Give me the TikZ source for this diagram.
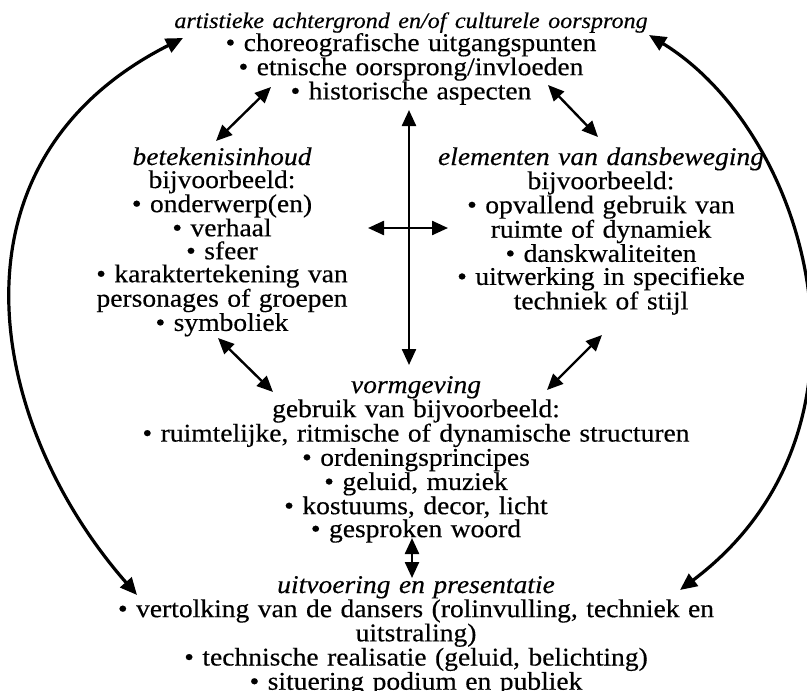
\documentclass[tikz,border=0pt]{standalone}
\usepackage{fontspec}
\setmainfont{Liberation Serif}[FakeStretch=1.08, FakeBold=0.4]
\usetikzlibrary{arrows.meta}
\setlength{\lineskiplimit}{-100pt}

\begin{document}
\begin{tikzpicture}[
    x=1pt, y=-1pt,
    blok/.style={align=center, text width=#1, inner sep=0pt, anchor=base, font=\fontsize{25.5}{23}\selectfont},
    dubbel/.style={{Triangle[length=16pt,width=14pt]}-{Triangle[length=16pt,width=14pt]}, line width=2.4pt},
    boog/.style={{Triangle[length=17pt,width=15pt]}-{Triangle[length=17pt,width=15pt]}, line width=3.2pt}
]

% Frame
\useasboundingbox (0,0) rectangle (807,691);

% Blocks
\node[blok=520pt] (achtergrond) at (411,28) {{\fontsize{22.3}{23.5}\selectfont\itshape artistieke achtergrond en/of culturele oorsprong}\\
    • choreografische uitgangspunten\\ • etnische oorsprong/invloeden\\ • historische aspecten};
\node[blok=300pt] (betekenis) at (222,165) {{\itshape betekenisinhoud}\\ bijvoorbeeld:\\ • onderwerp(en)\\ • verhaal\\ • sfeer\\
    • karaktertekening van\\ personages of groepen\\ • symboliek};
\node[blok=340pt] (elementen) at (601,165) {{\itshape elementen van dansbeweging}\\ bijvoorbeeld:\\ • opvallend gebruik van\\
    ruimte of dynamiek\\ • danskwaliteiten\\ • uitwerking in specifieke\\ techniek of stijl};
\node[blok=620pt] (vormgeving) at (416,393) {{\itshape vormgeving}\\ gebruik van bijvoorbeeld:\\ • ruimtelijke, ritmische of dynamische structuren\\
    • ordeningsprincipes\\ • geluid, muziek\\ • kostuums, decor, licht\\ • gesproken woord};
\node[blok=660pt, font=\fontsize{25.5}{21.5}\selectfont] (uitvoering) at (416,593) {{\itshape uitvoering en presentatie}\\ • vertolking van de dansers (rolinvulling, techniek en\\
    uitstraling)\\ • technische realisatie (geluid, belichting)\\ • situering podium en publiek};

% Arrow ends
\coordinate (a1) at (271,87);  \coordinate (a2) at (216,141);
\coordinate (b1) at (548,85);  \coordinate (b2) at (598,137);
\coordinate (c1) at (409,110); \coordinate (c2) at (409,365);
\coordinate (d1) at (368,228); \coordinate (d2) at (448,228);
\coordinate (e1) at (218,338); \coordinate (e2) at (273,392);
\coordinate (f1) at (602,335); \coordinate (f2) at (547,390);
\coordinate (g1) at (412,538); \coordinate (g2) at (412,578);
\coordinate (lboven) at (183,38); \coordinate (londer) at (137,595);
\coordinate (rboven) at (649,35); \coordinate (ronder) at (680,590);

% Arrows
\foreach \p/\q in {a1/a2, b1/b2, c1/c2, d1/d2, e1/e2, f1/f2, g1/g2} {
    \draw[dubbel] (\p) -- (\q);
}
\draw[boog] (londer) .. controls (-13,424) and (-62,162) .. (lboven);
\draw[boog] (rboven) .. controls (809,133) and (894,429) .. (ronder);

\end{tikzpicture}
\end{document}
